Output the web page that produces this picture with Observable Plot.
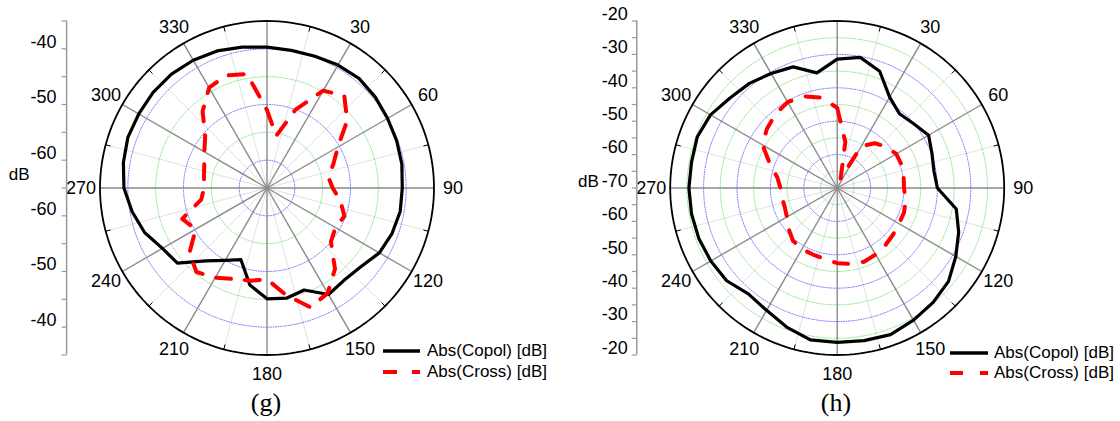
<!DOCTYPE html>
<html>
<head>
<meta charset="utf-8">
<script src="https://cdn.jsdelivr.net/npm/d3@7"></script>
<script src="https://cdn.jsdelivr.net/npm/@observablehq/plot@0.6"></script>
<style>
  body { margin: 0; background: #fff; font-family: Arial, "Liberation Sans", sans-serif; }
  #wrap { position: relative; width: 1120px; height: 421px; overflow: hidden; background: #fff; }
  .panel { position: absolute; top: 0; width: 560px; height: 388px; }
  .cap { position: absolute; top: 388px; width: 100px; text-align: center;
         font-family: "Liberation Serif", "Times New Roman", serif; font-size: 26px; line-height: 30px; color: #000; }
  .leg { position: absolute; height: 20px; display: flex; align-items: center;
         font-size: 17px; color: #000; white-space: nowrap; }
  .leg svg { display: block; }
</style>
</head>
<body>
<div id="wrap">
  <div class="panel" id="g" style="left:0px"></div>
  <div class="panel" id="h" style="left:560px"></div>
  <div class="cap" style="left:216px">(g)</div>
  <div class="cap" style="left:786px">(h)</div>
  <div class="leg" style="left:383px;top:341px"><svg width="37" height="20"><line x1="0" y1="10" x2="37" y2="10" stroke="#000" stroke-width="3.5"/></svg><span style="margin-left:7px">Abs(Copol) [dB]</span></div>
  <div class="leg" style="left:383px;top:362px"><svg width="37" height="20"><line x1="0" y1="10" x2="37" y2="10" stroke="#f00" stroke-width="4" stroke-dasharray="14,15"/></svg><span style="margin-left:7px">Abs(Cross) [dB]</span></div>
  <div class="leg" style="left:950px;top:343px"><svg width="38" height="20"><line x1="0" y1="10" x2="38" y2="10" stroke="#000" stroke-width="3.5"/></svg><span style="margin-left:6px">Abs(Copol) [dB]</span></div>
  <div class="leg" style="left:950px;top:363px"><svg width="38" height="20"><line x1="0" y1="10" x2="38" y2="10" stroke="#f00" stroke-width="4" stroke-dasharray="13,17"/></svg><span style="margin-left:6px">Abs(Cross) [dB]</span></div>
</div>
<script>
// ---- data (angles in degrees, clockwise from top; values in dB) ----
const angles = [0,10,20,30,40,50,60,70,80,90,100,110,120,130,140,150,160,170,
                180,190,200,210,220,230,240,250,260,270,280,290,300,310,320,330,340,350];

const copolG = [-39.7,-39.9,-39.8,-39.5,-39.3,-39.6,-40.0,-40.2,-40.4,-40.7,-40.7,-41.1,
                -41.7,-43.0,-43.4,-42.9,-45.5,-44.9,-45.1,-47.3,-51.3,-50.0,-47.9,-44.0,
                -43.3,-41.6,-40.4,-39.3,-38.8,-38.4,-38.4,-38.3,-38.3,-38.5,-38.8,-39.3];
const crossG = [-51.0,-55.5,-50.0,-44.8,-43.4,-46.2,-50.3,-52.3,-53.8,-53.2,-51.6,-50.2,
                -50.8,-50.0,-46.0,-43.2,-42.2,-45.5,-48.6,-48.1,-47.6,-46.4,-45.3,-46.8,
                -50.2,-48.8,-53.0,-53.7,-53.5,-53.0,-52.0,-50.5,-47.0,-44.2,-43.5,-44.2];

const copolH = [-31.4,-30.3,-32.8,-38.6,-41.0,-40.1,-38.4,-39.8,-40.6,-40.0,-33.8,-31.3,
                -29.0,-26.5,-25.3,-24.3,-23.3,-23.6,-23.8,-23.8,-25.7,-27.7,-28.6,-26.8,
                -26.3,-25.9,-25.7,-25.6,-25.7,-25.4,-26.2,-28.1,-29.1,-30.4,-31.4,-35.0];
const crossH = [-46.0,-56.0,-67.0,-55.5,-52.5,-50.8,-49.6,-49.5,-49.8,-50.0,-49.2,-48.7,
                -48.6,-48.2,-47.6,-47.0,-46.5,-46.9,-47.5,-48.4,-48.8,-48.9,-49.4,-51.0,
                -52.6,-53.3,-53.2,-53.0,-51.8,-48.5,-44.2,-42.5,-41.2,-40.3,-40.8,-42.5];

const angleLabels = [30,60,90,120,150,180,210,240,270,300,330];
const majorSpokes = [0,30,60,90,120,150,180,210,240,270,300,330];
const minorSpokes = [15,45,75,105,135,165,195,225,255,285,315,345];

// radial axis: signed offsets (dB from centre) for ticks and labels
const axisTicksG  = [-30,-25,-20,-15,-10,-5,0,5,10,15,20,25,30];
const axisLabelsG = [-25,-15,-5,5,15,25];
const ringsBlueG  = [5,15,25];
const ringsGreenG = [10,20];

const axisTicksH  = [-50,-45,-40,-35,-30,-25,-20,-15,-10,-5,0,5,10,15,20,25,30,35,40,45,50];
const axisLabelsH = [-50,-40,-30,-20,-10,0,10,20,30,40,50];
const ringsBlueH  = [10,20,30,40];
const ringsGreenH = [5,15,25,35,45];

function polar({copol, cross, dBmin, R, ringsBlue, ringsGreen, axisTicks, axisLabels,
                axisX, ml, mr, labelDx, dbDx, dbDy, dash}) {
  const W = 560, H = 388, mt = 20.5, mb = 33.5;
  const ppu = (W - ml - mr) / (2 * R);
  const rad = a => a * Math.PI / 180;
  const X = (a, r) => r * Math.sin(rad(a));
  const Y = (a, r) => r * Math.cos(rad(a));
  const toPts = vals => angles.map((a, i) => ({a, r: vals[i] - dBmin}))
                              .concat([{a: 360, r: vals[0] - dBmin}]);
  const circ = d3.range(0, 361, 2);
  const ringPts = rings => rings.flatMap(r => circ.map(a => ({ring: r, a, r})));
  const px = d => X(d.a, d.r), py = d => Y(d.a, d.r);

  return Plot.plot({
    width: W, height: H,
    marginLeft: ml, marginRight: mr, marginTop: mt, marginBottom: mb,
    x: {domain: [-R, R], axis: null},
    y: {domain: [-R, R], axis: null},
    style: {fontFamily: "Arial, 'Liberation Sans', sans-serif", background: "#fff", overflow: "visible"},
    marks: [
      Plot.link(minorSpokes, {x1: 0, y1: 0, x2: a => X(a, R), y2: a => Y(a, R),
        stroke: "#e2e2e2", strokeWidth: 1}),
      Plot.line(ringPts(ringsGreen), {x: px, y: py, z: "ring",
        stroke: "#22cc22", strokeOpacity: 0.5, strokeWidth: 1, strokeDasharray: "1,1.5"}),
      Plot.line(ringPts(ringsBlue), {x: px, y: py, z: "ring",
        stroke: "#2222ff", strokeOpacity: 0.6, strokeWidth: 1, strokeDasharray: "1,1.5"}),
      Plot.link(majorSpokes, {x1: 0, y1: 0, x2: a => X(a, R), y2: a => Y(a, R),
        stroke: "#8a8a8a", strokeWidth: 1.4}),
      Plot.line(circ, {x: a => X(a, R), y: a => Y(a, R), stroke: "#000", strokeWidth: 1.8}),
      Plot.link(minorSpokes, {x1: a => X(a, R - 5 / ppu), y1: a => Y(a, R - 5 / ppu),
        x2: a => X(a, R), y2: a => Y(a, R), stroke: "#000", strokeWidth: 1}),
      Plot.line(toPts(copol), {x: px, y: py, stroke: "#000", strokeWidth: 3.2,
        strokeLinejoin: "round"}),
      Plot.line(toPts(cross), {x: px, y: py, stroke: "#ff0000", strokeWidth: 4,
        strokeDasharray: dash, strokeLinejoin: "round"}),
      Plot.text(angleLabels, {x: a => X(a, R + 19 / ppu), y: a => Y(a, R + 19 / ppu),
        text: d => String(d), fontSize: 18, fill: "#000"}),
      Plot.ruleX([axisX], {y1: -R, y2: R, stroke: "#999", strokeWidth: 1.5}),
      Plot.link(axisTicks, {x1: axisX - 5 / ppu, x2: axisX, y1: d => d, y2: d => d,
        stroke: "#999", strokeWidth: 1.2}),
      Plot.text(axisLabels, {x: axisX, y: d => d, dx: labelDx, dy: -7, textAnchor: "end",
        text: d => String(dBmin + Math.abs(d)), fontSize: 18, fill: "#000"}),
      Plot.text(["dB"], {x: axisX, y: 0, dx: dbDx, dy: dbDy, textAnchor: "end",
        text: d => d, fontSize: 17, fill: "#000"})
    ]
  });
}

document.getElementById("g").append(polar({
  copol: copolG, cross: crossG, dBmin: -65, R: 30,
  ringsBlue: ringsBlueG, ringsGreen: ringsGreenG,
  axisTicks: axisTicksG, axisLabels: axisLabelsG, axisX: -36,
  ml: 99.5, mr: 126.5, labelDx: -10, dbDx: -37, dbDy: -13, dash: "15,14"
}));
document.getElementById("h").append(polar({
  copol: copolH, cross: crossH, dBmin: -70, R: 50,
  ringsBlue: ringsBlueH, ringsGreen: ringsGreenH,
  axisTicks: axisTicksH, axisLabels: axisLabelsH, axisX: -60,
  ml: 109.7, mr: 116.3, labelDx: -9, dbDx: -38, dbDy: -6, dash: "14,15"
}));
</script>
</body>
</html>
